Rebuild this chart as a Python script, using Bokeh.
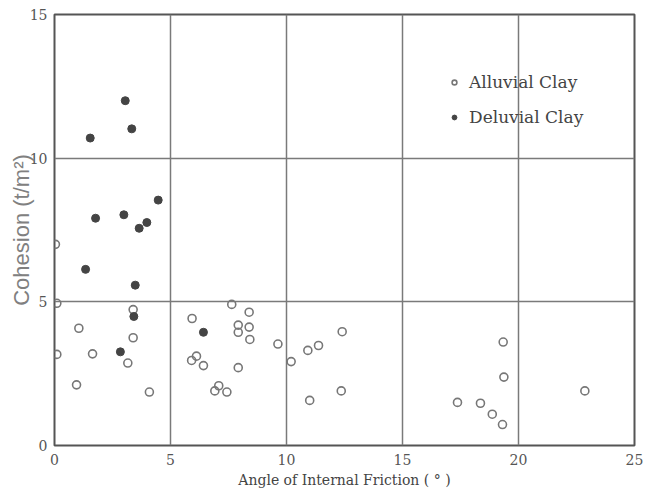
from bokeh.plotting import figure
from bokeh.models import Range1d, FixedTicker, Legend, LegendItem
from bokeh.embed import file_html
from bokeh.resources import INLINE

# Alluvial clay (open circles)
alluvial_x = [0.04, 0.1, 1.05, 3.39, 3.39, 0.1, 1.64, 3.16, 0.95, 4.09,
              7.64, 8.39, 5.93, 7.92, 8.39, 7.92, 8.42, 9.63, 12.4, 11.38,
              10.92, 6.12, 5.91, 6.42, 10.2, 7.92, 7.08, 6.91, 7.43, 12.36,
              11.0, 19.34, 19.37, 22.86, 17.37, 18.36, 18.87, 19.31]
alluvial_y = [7.0, 4.95, 4.08, 4.73, 3.75, 3.17, 3.19, 2.87, 2.11, 1.86,
              4.91, 4.64, 4.42, 4.19, 4.12, 3.94, 3.69, 3.53, 3.96, 3.48,
              3.31, 3.11, 2.96, 2.78, 2.92, 2.71, 2.08, 1.90, 1.86, 1.90,
              1.57, 3.60, 2.38, 1.90, 1.50, 1.47, 1.09, 0.73]

# Deluvial clay (filled circles)
deluvial_x = [3.05, 3.33, 1.54, 4.47, 1.77, 2.99, 3.98, 3.65, 1.34, 3.48,
              3.42, 2.84, 6.42]
deluvial_y = [12.0, 11.02, 10.70, 8.54, 7.91, 8.03, 7.76, 7.56, 6.13, 5.58,
              4.49, 3.26, 3.94]

x_ticks = [0, 5, 10, 15, 20, 25]
y_ticks = [0, 5, 10, 15]

serif = "DejaVu Serif"

p = figure(width=653, height=498, output_backend="svg", toolbar_location=None,
           x_range=Range1d(0, 25), y_range=Range1d(0, 15),
           min_border_left=54, min_border_right=19, min_border_top=14,
           min_border_bottom=53)
p.background_fill_color = "white"
p.border_fill_color = "white"
p.outline_line_color = "#555555"
p.outline_line_width = 2

for ax, ticks in ((p.xaxis, x_ticks), (p.yaxis, y_ticks)):
    ax.ticker = FixedTicker(ticks=ticks)
    ax.axis_line_color = None
    ax.major_tick_line_color = None
    ax.minor_tick_line_color = None
    ax.major_label_text_font = serif
    ax.major_label_text_font_size = "14px"
    ax.major_label_text_color = "#555555"

p.xaxis.major_label_standoff = 2
p.yaxis.major_label_standoff = 1
p.xaxis.axis_label = "Angle of Internal Friction ( \u00b0 )"
p.xaxis.axis_label_text_font = serif
p.xaxis.axis_label_text_font_style = "normal"
p.xaxis.axis_label_text_font_size = "14px"
p.xaxis.axis_label_text_color = "#444444"
p.xaxis.axis_label_standoff = 4

p.yaxis.axis_label = "Cohesion (t/m\u00b2)"
p.yaxis.axis_label_text_font = "Liberation Sans"
p.yaxis.axis_label_text_font_style = "normal"
p.yaxis.axis_label_text_font_size = "22px"
p.yaxis.axis_label_text_color = "#808080"
p.yaxis.axis_label_standoff = -7

p.xgrid.ticker = FixedTicker(ticks=x_ticks)
p.ygrid.ticker = FixedTicker(ticks=y_ticks)
for g in (p.xgrid, p.ygrid):
    g.grid_line_color = "#7a7a7a"
    g.grid_line_width = 1.5
    g.grid_line_alpha = 1.0

r_all = p.scatter(alluvial_x, alluvial_y, marker="circle", size=8,
                  fill_color="white", fill_alpha=0.0,
                  line_color="#777777", line_width=1.6)
r_del = p.scatter(deluvial_x, deluvial_y, marker="circle", size=8,
                  fill_color="#444444", line_color="#444444", line_width=1)

legend = Legend(items=[LegendItem(label="Alluvial Clay", renderers=[r_all]),
                       LegendItem(label="Deluvial Clay", renderers=[r_del])],
                location=(394, 318), orientation="vertical")
legend.background_fill_alpha = 0
legend.border_line_color = None
legend.padding = 0
legend.margin = 0
legend.spacing = 15
legend.glyph_width = 12
legend.glyph_height = 20
legend.label_standoff = 9
legend.label_text_font = serif
legend.label_text_font_size = "17px"
legend.label_text_color = "#444444"
p.add_layout(legend)

open("out.html", "w").write(file_html(p, INLINE))
